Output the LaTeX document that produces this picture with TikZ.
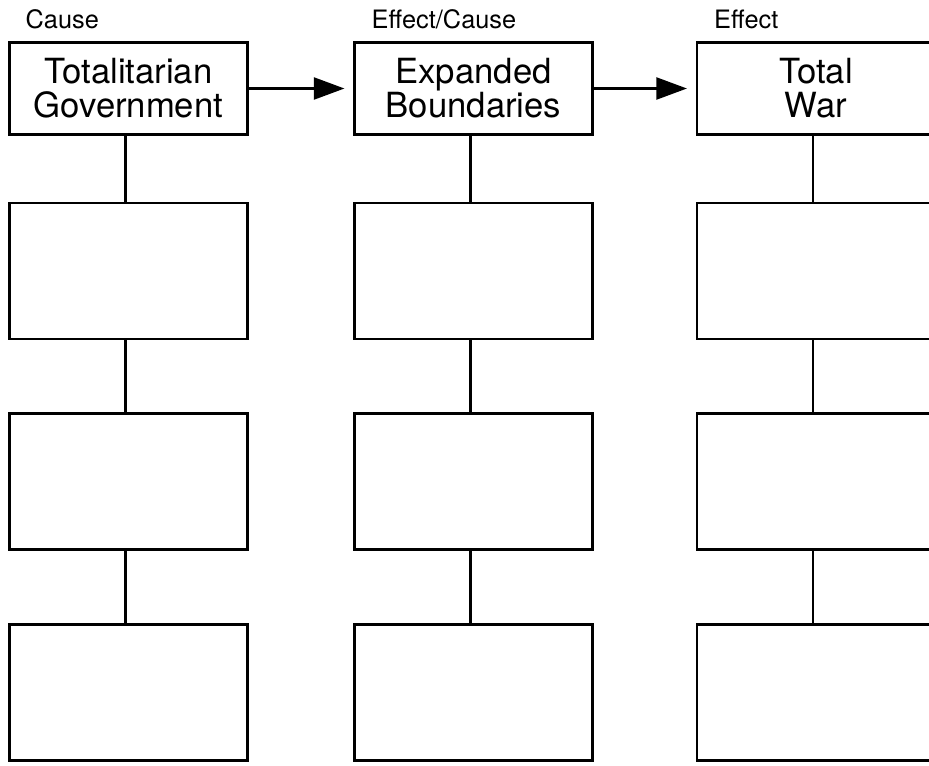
\documentclass[tikz,border=0pt]{standalone}
\usepackage{fontspec}
\setmainfont{TeX Gyre Heros}
\usetikzlibrary{arrows.meta,positioning}

\tikzset{
  headbox/.style={draw,line width=1.6pt,minimum width=178.5pt,minimum height=69pt,
    inner sep=0pt,align=center,font=\fontsize{26}{25.5}\selectfont},
  blankbox/.style={draw,line width=1.6pt,minimum width=178.5pt,minimum height=102pt},
  tag/.style={anchor=base west,inner sep=0pt,font=\fontsize{19}{21}\selectfont},
  link/.style={line width=1.6pt},
  flow/.style={line width=1.9pt,-{Triangle[length=23pt,width=16.5pt]},shorten >=6.75pt}
}

\begin{document}
\begin{tikzpicture}[x=0.75pt,y=-0.75pt]
  \useasboundingbox (0,0) rectangle (929,765);
  \clip (0,0) rectangle (929,765);

  % headers
  \node [headbox] (hd1) at (128.5,88.5) {Totalitarian\\Government};
  \node [headbox] (hd2) at (473.5,88.5) {Expanded\\Boundaries};
  \node [headbox] (hd3) at (816,88.5) {Total\\War};

  \node [tag] at ([xshift=12.75pt,yshift=9.75pt]hd1.north west) {Cause};
  \node [tag] at ([xshift=13.5pt,yshift=9.75pt]hd2.north west) {Effect/Cause};
  \node [tag] at ([xshift=13.5pt,yshift=9.75pt]hd3.north west) {Effect};

  \draw [flow] (hd1.east) -- (hd2.west);
  \draw [flow] (hd2.east) -- (hd3.west);

  % empty boxes below each header
  \foreach \c/\x in {1/128.5,2/473.5,3/816} {
    \node [blankbox] (b\c1) at (\x,271) {};
    \node [blankbox] (b\c2) at (\x,481.5) {};
    \node [blankbox] (b\c3) at (\x,692.5) {};
    \draw [link] ([xshift=-2.25pt]hd\c.south) -- ([xshift=-2.25pt]b\c1.north);
    \draw [link] ([xshift=-2.25pt]b\c1.south) -- ([xshift=-2.25pt]b\c2.north);
    \draw [link] ([xshift=-2.25pt]b\c2.south) -- ([xshift=-2.25pt]b\c3.north);
  }
\end{tikzpicture}
\end{document}
